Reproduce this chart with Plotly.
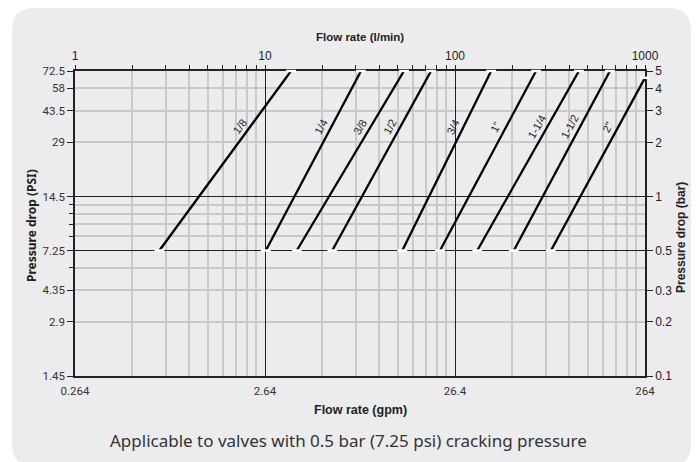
import math
import plotly.graph_objects as go

# valve sizes and their curves (flow in l/min, pressure drop in bar)
sizes = ['1/8', '1/4', '3/8', '1/2', '3/4', '1"', '1-1/4', '1-1/2', '2"']
flow_start_lpm = [2.78, 10.1, 14.7, 22.6, 52.8, 83.4, 131, 204, 320]
flow_end_lpm = [13.7, 32.0, 53.9, 74.8, 155, 267, 449, 654, 1000]
dp_start_bar = [0.5, 0.5, 0.5, 0.5, 0.5, 0.5, 0.5, 0.5, 0.5]
dp_end_bar = [5, 5, 5, 5, 5, 5, 5, 5, 4.58]

lpm_ticks = [1, 10, 100, 1000]
lpm_text = ['1', '10', '100', '1000']
gpm_text = ['0.264', '2.64', '26.4', '264']
bar_ticks = [5, 4, 3, 2, 1, 0.5, 0.3, 0.2, 0.1]
bar_text = ['5', '4', '3', '2', '1', '0.5', '0.3', '0.2', '0.1']
psi_text = ['72.5', '58', '43.5', '29', '14.5', '7.25', '4.35', '2.9', '1.45']
x_minor = [m * 10 ** d for d in range(3) for m in range(2, 10)]
y_minor = [4, 3, 2, 0.9, 0.8, 0.7, 0.6, 0.4, 0.3, 0.2]
y_major_lines = [1, 0.5]
label_dp = 2.45

W, H = 696, 462
L, R, T, B = 75, 51, 71, 86
pw, ph = W - L - R, H - T - B
xr = [0, 3]
yr = [-1, math.log10(5)]
px_dec_x = pw / (xr[1] - xr[0])
px_dec_y = ph / (yr[1] - yr[0])

DARK = '#222222'
LIGHT = '#c9c9cb'
PANEL = '#ececee'

fig = go.Figure()

# helper traces so the overlay axes get drawn
fig.add_trace(go.Scatter(x=flow_start_lpm, y=dp_start_bar, xaxis='x2', yaxis='y2',
                         mode='markers', marker=dict(opacity=0), showlegend=False,
                         hoverinfo='skip'))
fig.add_trace(go.Scatter(x=flow_start_lpm, y=dp_start_bar, xaxis='x', yaxis='y3',
                         mode='markers', marker=dict(opacity=0), showlegend=False,
                         hoverinfo='skip'))

for name, qs, qe, ps, pe in zip(sizes, flow_start_lpm, flow_end_lpm, dp_start_bar, dp_end_bar):
    fig.add_trace(go.Scatter(
        x=[qs, qe], y=[ps, pe], mode='lines+markers', name=name,
        line=dict(color='black', width=2.3),
        marker=dict(symbol='line-ew', size=7, line=dict(color='white', width=2.5)),
        cliponaxis=False, showlegend=False, hoverinfo='skip'))
    lq0, lq1 = math.log10(qs), math.log10(qe)
    lp0, lp1 = math.log10(ps), math.log10(pe)
    t = (math.log10(label_dp) - lp0) / (lp1 - lp0)
    ang = math.degrees(math.atan2(px_dec_y * (lp1 - lp0), px_dec_x * (lq1 - lq0)))
    fig.add_annotation(x=lq0 + t * (lq1 - lq0), y=math.log10(label_dp), xref='x', yref='y',
                       text=name, showarrow=False, textangle=-ang, xshift=-11,
                       font=dict(family='Liberation Sans, Arial', size=11, color=DARK))

# rounded background panel
def px2x(p):
    return (p - L) / pw

def py2y(p):
    return (H - B - p) / ph

x0, x1 = px2x(12), px2x(691)
y1, y0 = py2y(8), py2y(466)
rx, ry = 22 / pw, 22 / ph
path = (f'M {x0+rx},{y1} L {x1-rx},{y1} Q {x1},{y1} {x1},{y1-ry} '
        f'L {x1},{y0+ry} Q {x1},{y0} {x1-rx},{y0} L {x0+rx},{y0} '
        f'Q {x0},{y0} {x0},{y0+ry} L {x0},{y1-ry} Q {x0},{y1} {x0+rx},{y1} Z')
fig.add_shape(type='path', path=path, xref='paper', yref='paper',
              fillcolor=PANEL, line=dict(width=0), layer='below')

tick_font_narrow = dict(family='Roboto, Liberation Sans', size=11.5, color='#333333')
tick_font_arial = dict(family='Liberation Sans, Arial', size=12, color=DARK)

fig.update_layout(
    width=W, height=H,
    margin=dict(l=L, r=R, t=T, b=B, autoexpand=False),
    paper_bgcolor='white', plot_bgcolor='rgba(0,0,0,0)',
    xaxis=dict(type='log', range=xr, tickvals=lpm_ticks, ticktext=gpm_text,
               showgrid=True, gridcolor=DARK, gridwidth=1.2,
               minor=dict(tickvals=x_minor, showgrid=True, gridcolor=LIGHT, gridwidth=1.5),
               showline=True, linecolor=DARK, linewidth=1.5, mirror=False,
               ticks='outside', ticklen=3, tickcolor='rgba(0,0,0,0)',
               tickfont=tick_font_narrow, zeroline=False, layer='below traces'),
    xaxis2=dict(type='log', range=xr, overlaying='x', side='top',
                tickvals=lpm_ticks, ticktext=lpm_text, showgrid=False,
                minor=dict(tickvals=x_minor, ticks='outside', ticklen=4,
                           tickcolor=DARK, showgrid=False),
                showline=True, linecolor=DARK, linewidth=1.5,
                ticks='outside', ticklen=4, tickcolor=DARK,
                tickfont=tick_font_arial, layer='below traces'),
    yaxis=dict(type='log', range=yr, tickvals=bar_ticks, ticktext=psi_text,
               showgrid=False,
               minor=dict(tickvals=y_minor, showgrid=True, gridcolor=LIGHT, gridwidth=1.5,
                          ticks='outside', ticklen=4, tickcolor=DARK),
               showline=True, linecolor=DARK, linewidth=1.5,
               ticks='outside', ticklen=6, tickcolor=DARK,
               tickfont=tick_font_narrow, zeroline=False, layer='below traces'),
    yaxis2=dict(type='log', range=yr, overlaying='y', side='right',
                tickvals=bar_ticks, ticktext=bar_text, showgrid=False,
                showline=True, linecolor=DARK, linewidth=1.5,
                ticks='outside', ticklen=6, tickcolor=DARK,
                tickfont=tick_font_arial, layer='below traces'),
    yaxis3=dict(type='log', range=yr, overlaying='y', side='left',
                tickvals=y_major_lines, showticklabels=False, ticks='',
                showgrid=True, gridcolor=DARK, gridwidth=1.2,
                showline=False, zeroline=False, layer='below traces'),
)

title_font = dict(family='Liberation Sans, Arial', size=11.5, color=DARK)
centered = dict(xref='paper', yref='paper', showarrow=False,
                xanchor='center', yanchor='middle')
fig.add_annotation(text='<b>Flow rate (l/min)</b>', x=0.5, y=py2y(37),
                   font=title_font, **centered)
fig.add_annotation(text='<b>Flow rate (gpm)</b>', x=0.5, y=py2y(410),
                   font=dict(title_font, size=12.5), **centered)
fig.add_annotation(text='<b>Pressure drop (PSI)</b>', x=px2x(31), y=py2y(226),
                   textangle=-90,
                   font=dict(family='Noto Sans, Liberation Sans', size=12, color=DARK),
                   **centered)
fig.add_annotation(text='<b>Pressure drop (bar)</b>', x=px2x(681), y=py2y(238),
                   textangle=-90, font=dict(title_font, size=12), **centered)
fig.add_annotation(text='Applicable to valves with 0.5 bar (7.25 psi) cracking pressure',
                   x=px2x(348), y=py2y(440),
                   font=dict(family='Noto Sans, Open Sans', size=17, color='#333333'),
                   **centered)

fig.write_html('out.html', config={'displayModeBar': False},
               post_script="document.body.style.margin='0';")
